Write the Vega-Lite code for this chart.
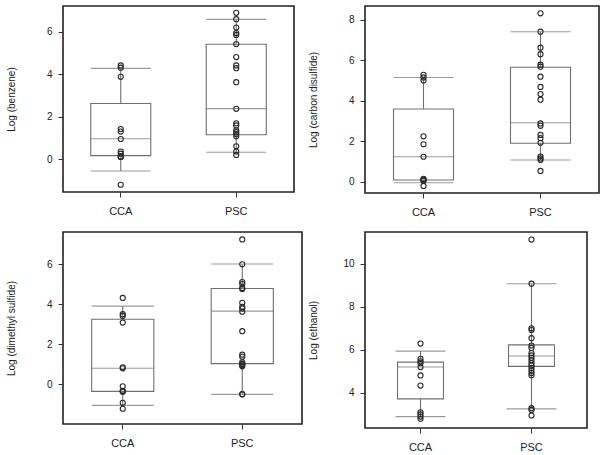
{
  "$schema": "https://vega.github.io/schema/vega-lite/v6.json",
  "padding": {"left": 5, "top": 5, "right": 5, "bottom": 5},
  "config": {
    "font": "Liberation Sans",
    "view": {"stroke": "#222", "strokeWidth": 1.6},
    "axis": {"domain": false, "grid": false, "ticks": true, "tickSize": 5, "tickColor": "#333", "labelColor": "#222", "titleColor": "#222", "titleFontWeight": "normal"},
    "axisY": {"labelFontSize": 10, "labelPadding": 6, "minExtent": 30, "maxExtent": 30, "titlePadding": 17, "titleFontSize": 10},
    "axisX": {"labelFontSize": 11, "labelPadding": 8, "labelAngle": 0}
  },
  "datasets": {
    "pts": [
      {"chem": "benzene", "group": "CCA", "value": 4.41},
      {"chem": "benzene", "group": "CCA", "value": 4.30},
      {"chem": "benzene", "group": "CCA", "value": 3.87},
      {"chem": "benzene", "group": "CCA", "value": 1.42},
      {"chem": "benzene", "group": "CCA", "value": 1.30},
      {"chem": "benzene", "group": "CCA", "value": 0.95},
      {"chem": "benzene", "group": "CCA", "value": 0.36},
      {"chem": "benzene", "group": "CCA", "value": 0.26},
      {"chem": "benzene", "group": "CCA", "value": 0.13},
      {"chem": "benzene", "group": "CCA", "value": 0.12},
      {"chem": "benzene", "group": "CCA", "value": 0.11},
      {"chem": "benzene", "group": "CCA", "value": -1.2},
      {"chem": "benzene", "group": "PSC", "value": 6.88},
      {"chem": "benzene", "group": "PSC", "value": 6.58},
      {"chem": "benzene", "group": "PSC", "value": 6.19},
      {"chem": "benzene", "group": "PSC", "value": 5.93},
      {"chem": "benzene", "group": "PSC", "value": 5.84},
      {"chem": "benzene", "group": "PSC", "value": 5.41},
      {"chem": "benzene", "group": "PSC", "value": 4.80},
      {"chem": "benzene", "group": "PSC", "value": 4.41},
      {"chem": "benzene", "group": "PSC", "value": 4.28},
      {"chem": "benzene", "group": "PSC", "value": 3.62},
      {"chem": "benzene", "group": "PSC", "value": 2.37},
      {"chem": "benzene", "group": "PSC", "value": 1.69},
      {"chem": "benzene", "group": "PSC", "value": 1.59},
      {"chem": "benzene", "group": "PSC", "value": 1.36},
      {"chem": "benzene", "group": "PSC", "value": 1.27},
      {"chem": "benzene", "group": "PSC", "value": 1.18},
      {"chem": "benzene", "group": "PSC", "value": 1.08},
      {"chem": "benzene", "group": "PSC", "value": 0.61},
      {"chem": "benzene", "group": "PSC", "value": 0.36},
      {"chem": "benzene", "group": "PSC", "value": 0.20},
      {"chem": "cs2", "group": "CCA", "value": 5.28},
      {"chem": "cs2", "group": "CCA", "value": 5.15},
      {"chem": "cs2", "group": "CCA", "value": 5.00},
      {"chem": "cs2", "group": "CCA", "value": 2.24},
      {"chem": "cs2", "group": "CCA", "value": 1.85},
      {"chem": "cs2", "group": "CCA", "value": 1.23},
      {"chem": "cs2", "group": "CCA", "value": 0.14},
      {"chem": "cs2", "group": "CCA", "value": 0.10},
      {"chem": "cs2", "group": "CCA", "value": 0.08},
      {"chem": "cs2", "group": "CCA", "value": 0.05},
      {"chem": "cs2", "group": "CCA", "value": -0.21},
      {"chem": "cs2", "group": "PSC", "value": 8.32},
      {"chem": "cs2", "group": "PSC", "value": 7.41},
      {"chem": "cs2", "group": "PSC", "value": 6.62},
      {"chem": "cs2", "group": "PSC", "value": 6.30},
      {"chem": "cs2", "group": "PSC", "value": 5.78},
      {"chem": "cs2", "group": "PSC", "value": 5.68},
      {"chem": "cs2", "group": "PSC", "value": 5.19},
      {"chem": "cs2", "group": "PSC", "value": 4.68},
      {"chem": "cs2", "group": "PSC", "value": 4.33},
      {"chem": "cs2", "group": "PSC", "value": 4.05},
      {"chem": "cs2", "group": "PSC", "value": 2.88},
      {"chem": "cs2", "group": "PSC", "value": 2.76},
      {"chem": "cs2", "group": "PSC", "value": 2.31},
      {"chem": "cs2", "group": "PSC", "value": 2.15},
      {"chem": "cs2", "group": "PSC", "value": 1.92},
      {"chem": "cs2", "group": "PSC", "value": 1.24},
      {"chem": "cs2", "group": "PSC", "value": 1.15},
      {"chem": "cs2", "group": "PSC", "value": 1.07},
      {"chem": "cs2", "group": "PSC", "value": 0.53},
      {"chem": "dms", "group": "CCA", "value": 4.31},
      {"chem": "dms", "group": "CCA", "value": 3.50},
      {"chem": "dms", "group": "CCA", "value": 3.41},
      {"chem": "dms", "group": "CCA", "value": 3.08},
      {"chem": "dms", "group": "CCA", "value": 0.85},
      {"chem": "dms", "group": "CCA", "value": 0.80},
      {"chem": "dms", "group": "CCA", "value": -0.10},
      {"chem": "dms", "group": "CCA", "value": -0.32},
      {"chem": "dms", "group": "CCA", "value": -0.35},
      {"chem": "dms", "group": "CCA", "value": -0.37},
      {"chem": "dms", "group": "CCA", "value": -0.92},
      {"chem": "dms", "group": "CCA", "value": -1.22},
      {"chem": "dms", "group": "PSC", "value": 7.23},
      {"chem": "dms", "group": "PSC", "value": 5.99},
      {"chem": "dms", "group": "PSC", "value": 5.10},
      {"chem": "dms", "group": "PSC", "value": 5.00},
      {"chem": "dms", "group": "PSC", "value": 4.80},
      {"chem": "dms", "group": "PSC", "value": 4.75},
      {"chem": "dms", "group": "PSC", "value": 4.07},
      {"chem": "dms", "group": "PSC", "value": 3.87},
      {"chem": "dms", "group": "PSC", "value": 3.78},
      {"chem": "dms", "group": "PSC", "value": 3.62},
      {"chem": "dms", "group": "PSC", "value": 2.65},
      {"chem": "dms", "group": "PSC", "value": 1.48},
      {"chem": "dms", "group": "PSC", "value": 1.37},
      {"chem": "dms", "group": "PSC", "value": 1.10},
      {"chem": "dms", "group": "PSC", "value": 1.03},
      {"chem": "dms", "group": "PSC", "value": 1.00},
      {"chem": "dms", "group": "PSC", "value": 0.95},
      {"chem": "dms", "group": "PSC", "value": 0.90},
      {"chem": "dms", "group": "PSC", "value": -0.49},
      {"chem": "dms", "group": "PSC", "value": -0.50},
      {"chem": "ethanol", "group": "CCA", "value": 6.29},
      {"chem": "ethanol", "group": "CCA", "value": 5.58},
      {"chem": "ethanol", "group": "CCA", "value": 5.47},
      {"chem": "ethanol", "group": "CCA", "value": 5.38},
      {"chem": "ethanol", "group": "CCA", "value": 5.20},
      {"chem": "ethanol", "group": "CCA", "value": 4.81},
      {"chem": "ethanol", "group": "CCA", "value": 4.34},
      {"chem": "ethanol", "group": "CCA", "value": 3.10},
      {"chem": "ethanol", "group": "CCA", "value": 3.00},
      {"chem": "ethanol", "group": "CCA", "value": 2.90},
      {"chem": "ethanol", "group": "CCA", "value": 2.80},
      {"chem": "ethanol", "group": "PSC", "value": 11.12},
      {"chem": "ethanol", "group": "PSC", "value": 9.07},
      {"chem": "ethanol", "group": "PSC", "value": 7.00},
      {"chem": "ethanol", "group": "PSC", "value": 6.92},
      {"chem": "ethanol", "group": "PSC", "value": 6.54},
      {"chem": "ethanol", "group": "PSC", "value": 6.20},
      {"chem": "ethanol", "group": "PSC", "value": 6.09},
      {"chem": "ethanol", "group": "PSC", "value": 5.85},
      {"chem": "ethanol", "group": "PSC", "value": 5.74},
      {"chem": "ethanol", "group": "PSC", "value": 5.63},
      {"chem": "ethanol", "group": "PSC", "value": 5.51},
      {"chem": "ethanol", "group": "PSC", "value": 5.38},
      {"chem": "ethanol", "group": "PSC", "value": 5.27},
      {"chem": "ethanol", "group": "PSC", "value": 5.16},
      {"chem": "ethanol", "group": "PSC", "value": 5.04},
      {"chem": "ethanol", "group": "PSC", "value": 4.92},
      {"chem": "ethanol", "group": "PSC", "value": 4.82},
      {"chem": "ethanol", "group": "PSC", "value": 3.29},
      {"chem": "ethanol", "group": "PSC", "value": 3.21},
      {"chem": "ethanol", "group": "PSC", "value": 2.95}
    ],
    "boxes": [
      {"chem": "benzene", "group": "CCA", "lo": -0.55, "q1": 0.17, "med": 0.96, "q3": 2.62, "hi": 4.27},
      {"chem": "benzene", "group": "PSC", "lo": 0.33, "q1": 1.15, "med": 2.38, "q3": 5.40, "hi": 6.57},
      {"chem": "cs2", "group": "CCA", "lo": -0.05, "q1": 0.08, "med": 1.23, "q3": 3.59, "hi": 5.15},
      {"chem": "cs2", "group": "PSC", "lo": 1.07, "q1": 1.90, "med": 2.91, "q3": 5.65, "hi": 7.41},
      {"chem": "dms", "group": "CCA", "lo": -1.05, "q1": -0.35, "med": 0.80, "q3": 3.25, "hi": 3.90},
      {"chem": "dms", "group": "PSC", "lo": -0.50, "q1": 1.03, "med": 3.65, "q3": 4.78, "hi": 6.00},
      {"chem": "ethanol", "group": "CCA", "lo": 2.90, "q1": 3.72, "med": 5.20, "q3": 5.43, "hi": 5.94},
      {"chem": "ethanol", "group": "PSC", "lo": 3.26, "q1": 5.23, "med": 5.71, "q3": 6.23, "hi": 9.07}
    ]
  },
  "hconcat": [
    {
      "spacing": 14,
      "vconcat": [
        {
          "width": 231, "height": 186,
          "encoding": {
            "x": {"field": "group", "type": "nominal", "title": null, "scale": {"domain": ["CCA", "PSC"], "paddingInner": 0.48, "paddingOuter": 0.24}}
          },
          "layer": [
            {"data": {"name": "boxes"}, "transform": [{"filter": "datum.chem === 'benzene'"}], "mark": {"type": "rule", "color": "#707070", "strokeWidth": 1.1},
             "encoding": {"y": {"field": "lo", "type": "quantitative", "title": "Log (benzene)", "scale": {"domain": [-1.54, 7.2], "nice": false, "zero": false}, "axis": {"values": [0, 2, 4, 6]}}, "y2": {"field": "hi"}}},
            {"data": {"name": "boxes"}, "transform": [{"filter": "datum.chem === 'benzene'"}], "mark": {"type": "bar", "fill": "white", "stroke": "#707070", "strokeWidth": 1.1},
             "encoding": {"y": {"field": "q1", "type": "quantitative", "title": "Log (benzene)"}, "y2": {"field": "q3"}}},
            {"data": {"name": "boxes"}, "transform": [{"filter": "datum.chem === 'benzene'"}], "mark": {"type": "tick", "color": "#707070", "thickness": 1.1, "size": 60},
             "encoding": {"y": {"field": "med", "type": "quantitative", "title": "Log (benzene)"}}},
            {"data": {"name": "boxes"}, "transform": [{"filter": "datum.chem === 'benzene'"}], "mark": {"type": "tick", "color": "#707070", "thickness": 1.1, "size": 60},
             "encoding": {"y": {"field": "lo", "type": "quantitative", "title": "Log (benzene)"}}},
            {"data": {"name": "boxes"}, "transform": [{"filter": "datum.chem === 'benzene'"}], "mark": {"type": "tick", "color": "#707070", "thickness": 1.1, "size": 60},
             "encoding": {"y": {"field": "hi", "type": "quantitative", "title": "Log (benzene)"}}},
            {"data": {"name": "pts"}, "transform": [{"filter": "datum.chem === 'benzene'"}], "mark": {"type": "point", "shape": "circle", "filled": false, "size": 26, "stroke": "#2a2a2a", "strokeWidth": 1.1, "opacity": 1},
             "encoding": {"y": {"field": "value", "type": "quantitative", "title": "Log (benzene)"}}}
          ]
        },
        {
          "width": 239, "height": 192,
          "encoding": {
            "x": {"field": "group", "type": "nominal", "title": null, "scale": {"domain": ["CCA", "PSC"], "paddingInner": 0.48, "paddingOuter": 0.24}}
          },
          "layer": [
            {"data": {"name": "boxes"}, "transform": [{"filter": "datum.chem === 'dms'"}], "mark": {"type": "rule", "color": "#707070", "strokeWidth": 1.1},
             "encoding": {"y": {"field": "lo", "type": "quantitative", "title": "Log (dimethyl sulfide)", "scale": {"domain": [-1.98, 7.6], "nice": false, "zero": false}, "axis": {"values": [0, 2, 4, 6]}}, "y2": {"field": "hi"}}},
            {"data": {"name": "boxes"}, "transform": [{"filter": "datum.chem === 'dms'"}], "mark": {"type": "bar", "fill": "white", "stroke": "#707070", "strokeWidth": 1.1},
             "encoding": {"y": {"field": "q1", "type": "quantitative", "title": "Log (dimethyl sulfide)"}, "y2": {"field": "q3"}}},
            {"data": {"name": "boxes"}, "transform": [{"filter": "datum.chem === 'dms'"}], "mark": {"type": "tick", "color": "#707070", "thickness": 1.1, "size": 62},
             "encoding": {"y": {"field": "med", "type": "quantitative", "title": "Log (dimethyl sulfide)"}}},
            {"data": {"name": "boxes"}, "transform": [{"filter": "datum.chem === 'dms'"}], "mark": {"type": "tick", "color": "#707070", "thickness": 1.1, "size": 62},
             "encoding": {"y": {"field": "lo", "type": "quantitative", "title": "Log (dimethyl sulfide)"}}},
            {"data": {"name": "boxes"}, "transform": [{"filter": "datum.chem === 'dms'"}], "mark": {"type": "tick", "color": "#707070", "thickness": 1.1, "size": 62},
             "encoding": {"y": {"field": "hi", "type": "quantitative", "title": "Log (dimethyl sulfide)"}}},
            {"data": {"name": "pts"}, "transform": [{"filter": "datum.chem === 'dms'"}], "mark": {"type": "point", "shape": "circle", "filled": false, "size": 26, "stroke": "#2a2a2a", "strokeWidth": 1.1, "opacity": 1},
             "encoding": {"y": {"field": "value", "type": "quantitative", "title": "Log (dimethyl sulfide)"}}}
          ]
        }
      ]
    },
    {
      "spacing": 13,
      "vconcat": [
        {
          "width": 234, "height": 187,
          "encoding": {
            "x": {"field": "group", "type": "nominal", "title": null, "scale": {"domain": ["CCA", "PSC"], "paddingInner": 0.487, "paddingOuter": 0.2435}}
          },
          "layer": [
            {"data": {"name": "boxes"}, "transform": [{"filter": "datum.chem === 'cs2'"}], "mark": {"type": "rule", "color": "#707070", "strokeWidth": 1.1},
             "encoding": {"y": {"field": "lo", "type": "quantitative", "title": "Log (carbon disulfide)", "scale": {"domain": [-0.56, 8.68], "nice": false, "zero": false}, "axis": {"values": [0, 2, 4, 6, 8]}}, "y2": {"field": "hi"}}},
            {"data": {"name": "boxes"}, "transform": [{"filter": "datum.chem === 'cs2'"}], "mark": {"type": "bar", "fill": "white", "stroke": "#707070", "strokeWidth": 1.1},
             "encoding": {"y": {"field": "q1", "type": "quantitative", "title": "Log (carbon disulfide)"}, "y2": {"field": "q3"}}},
            {"data": {"name": "boxes"}, "transform": [{"filter": "datum.chem === 'cs2'"}], "mark": {"type": "tick", "color": "#707070", "thickness": 1.1, "size": 60},
             "encoding": {"y": {"field": "med", "type": "quantitative", "title": "Log (carbon disulfide)"}}},
            {"data": {"name": "boxes"}, "transform": [{"filter": "datum.chem === 'cs2'"}], "mark": {"type": "tick", "color": "#707070", "thickness": 1.1, "size": 60},
             "encoding": {"y": {"field": "lo", "type": "quantitative", "title": "Log (carbon disulfide)"}}},
            {"data": {"name": "boxes"}, "transform": [{"filter": "datum.chem === 'cs2'"}], "mark": {"type": "tick", "color": "#707070", "thickness": 1.1, "size": 60},
             "encoding": {"y": {"field": "hi", "type": "quantitative", "title": "Log (carbon disulfide)"}}},
            {"data": {"name": "pts"}, "transform": [{"filter": "datum.chem === 'cs2'"}], "mark": {"type": "point", "shape": "circle", "filled": false, "size": 26, "stroke": "#2a2a2a", "strokeWidth": 1.1, "opacity": 1},
             "encoding": {"y": {"field": "value", "type": "quantitative", "title": "Log (carbon disulfide)"}}}
          ]
        },
        {
          "width": 222, "height": 196,
          "encoding": {
            "x": {"field": "group", "type": "nominal", "title": null, "scale": {"domain": ["CCA", "PSC"], "paddingInner": 0.586, "paddingOuter": 0.293}}
          },
          "layer": [
            {"data": {"name": "boxes"}, "transform": [{"filter": "datum.chem === 'ethanol'"}], "mark": {"type": "rule", "color": "#707070", "strokeWidth": 1.1},
             "encoding": {"y": {"field": "lo", "type": "quantitative", "title": "Log (ethanol)", "scale": {"domain": [2.37, 11.47], "nice": false, "zero": false}, "axis": {"values": [4, 6, 8, 10]}}, "y2": {"field": "hi"}}},
            {"data": {"name": "boxes"}, "transform": [{"filter": "datum.chem === 'ethanol'"}], "mark": {"type": "bar", "fill": "white", "stroke": "#707070", "strokeWidth": 1.1},
             "encoding": {"y": {"field": "q1", "type": "quantitative", "title": "Log (ethanol)"}, "y2": {"field": "q3"}}},
            {"data": {"name": "boxes"}, "transform": [{"filter": "datum.chem === 'ethanol'"}], "mark": {"type": "tick", "color": "#707070", "thickness": 1.1, "size": 46},
             "encoding": {"y": {"field": "med", "type": "quantitative", "title": "Log (ethanol)"}}},
            {"data": {"name": "boxes"}, "transform": [{"filter": "datum.chem === 'ethanol'"}], "mark": {"type": "tick", "color": "#707070", "thickness": 1.1, "size": 50},
             "encoding": {"y": {"field": "lo", "type": "quantitative", "title": "Log (ethanol)"}}},
            {"data": {"name": "boxes"}, "transform": [{"filter": "datum.chem === 'ethanol'"}], "mark": {"type": "tick", "color": "#707070", "thickness": 1.1, "size": 50},
             "encoding": {"y": {"field": "hi", "type": "quantitative", "title": "Log (ethanol)"}}},
            {"data": {"name": "pts"}, "transform": [{"filter": "datum.chem === 'ethanol'"}], "mark": {"type": "point", "shape": "circle", "filled": false, "size": 26, "stroke": "#2a2a2a", "strokeWidth": 1.1, "opacity": 1},
             "encoding": {"y": {"field": "value", "type": "quantitative", "title": "Log (ethanol)"}}}
          ]
        }
      ]
    }
  ],
  "spacing": 4
}
